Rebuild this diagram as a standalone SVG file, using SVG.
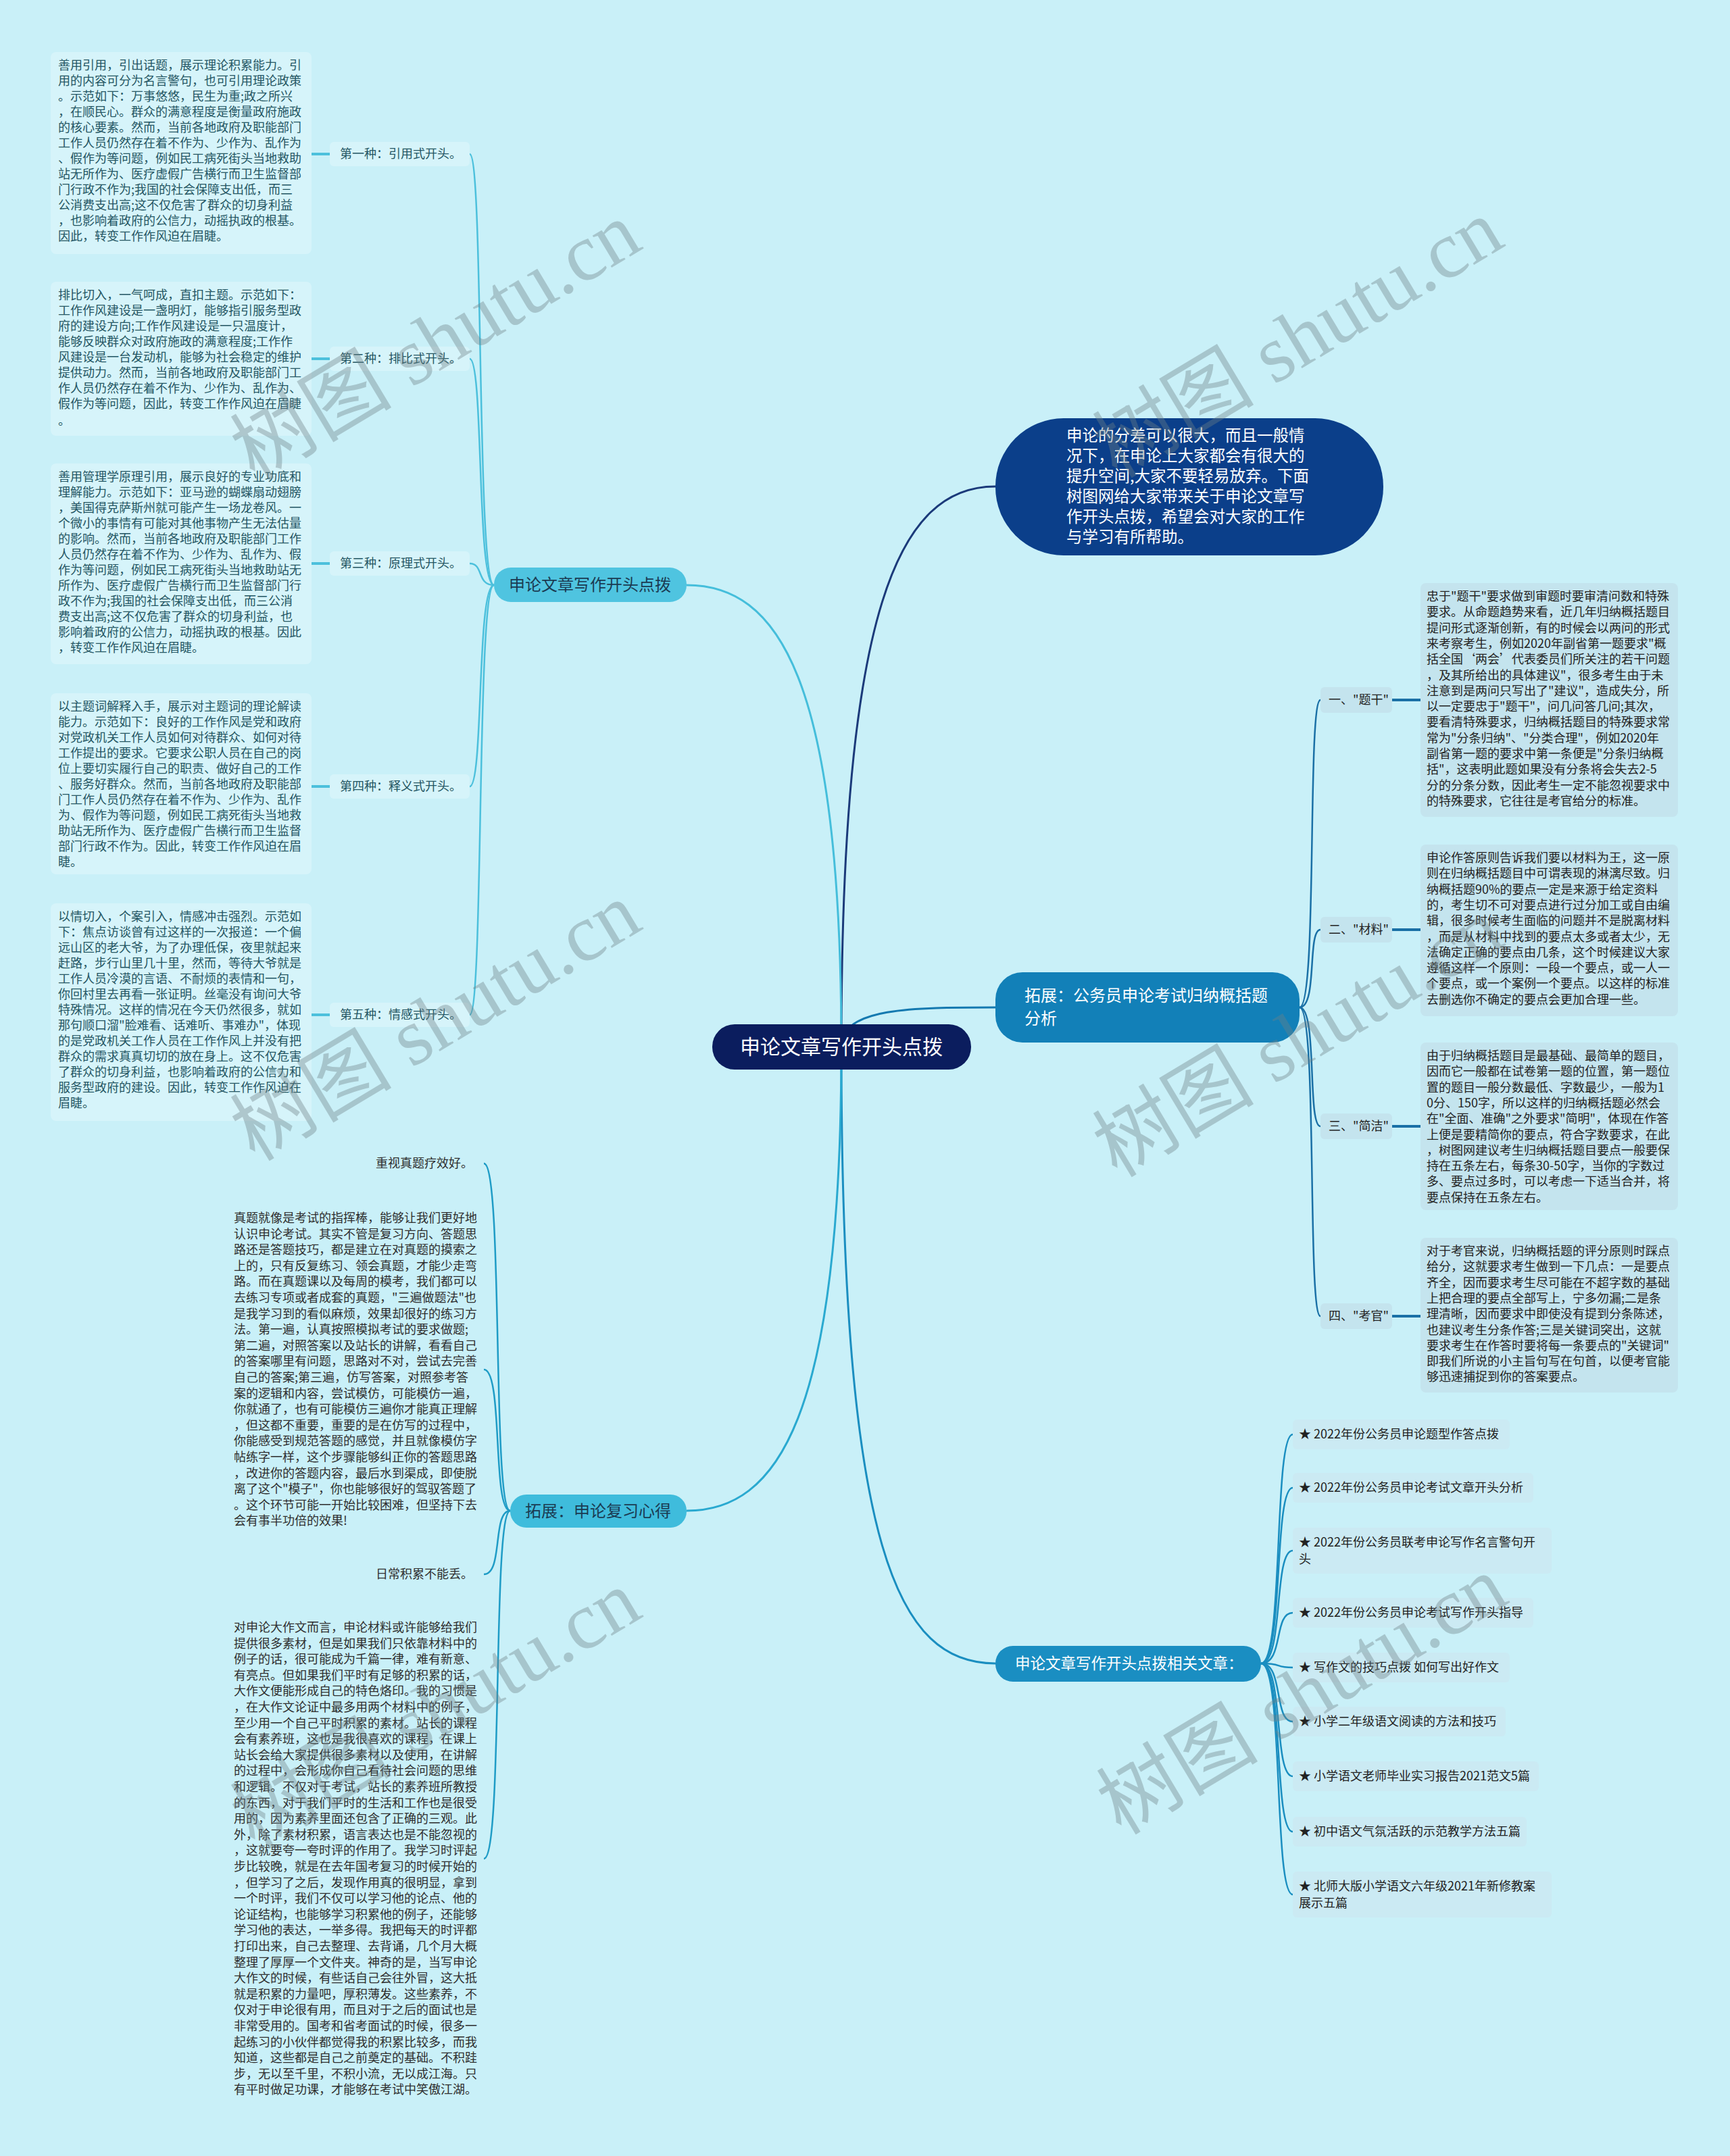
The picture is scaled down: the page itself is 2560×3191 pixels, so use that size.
<svg xmlns="http://www.w3.org/2000/svg" width="2560" height="3191" viewBox="0 0 2560 3191">
<style>
text{font-family:"Noto Sans CJK SC","Noto Sans",sans-serif;}
.lt{font-size:18px;fill:#245663;}
.rt{font-size:18px;fill:#232323;}
.vt{font-size:18px;fill:#2e2e2e;}
.it{font-size:18px;fill:#222;}
.lbox{fill:#d6f4fa;}
.rbox{fill:#c4e4ee;}
.ibox{fill:#cbeaf3;}
.c1{fill:none;stroke:#4cc0dc;stroke-width:2.5;}
.c1b{fill:none;stroke:#4cc0dc;stroke-width:4;}
.c2{fill:none;stroke:#1a70a6;stroke-width:2.5;}
.c2b{fill:none;stroke:#1a70a6;stroke-width:4;}
.c3{fill:none;stroke:#1a8ec0;stroke-width:2.5;}
.c4{fill:none;stroke:#1f9cc6;stroke-width:2.5;}
.wm{font-family:"Liberation Serif","Noto Sans CJK SC",serif;font-size:120px;fill:#6f8186;opacity:0.38;}
</style>
<rect x="0" y="0" width="2560" height="3191" fill="#c9f0f8"/>

<g id="connectors">
<path d="M1245,1549 C1245,900 1330,720 1473,720" fill="none" stroke="#1b3a7a" stroke-width="3"/>
<path d="M1245,1549 C1245,1491 1350,1491 1473,1491" fill="none" stroke="#1479b0" stroke-width="3"/>
<path d="M1245,1549 C1245,2300 1330,2462 1473,2462" fill="none" stroke="#1a8ec0" stroke-width="3"/>
<path d="M1245,1549 C1245,1000 1150,866 1016,866" fill="none" stroke="#45bedb" stroke-width="3"/>
<path d="M1245,1549 C1245,2100 1150,2236 1016,2236" fill="none" stroke="#2aa9d0" stroke-width="3"/>
<path class="c1" d="M731,866 C705,866 716,228 695,228"/>
<path class="c1" d="M731,866 C705,866 716,531 695,531"/>
<path class="c1" d="M731,866 C705,866 716,834 695,834"/>
<path class="c1" d="M731,866 C705,866 716,1164 695,1164"/>
<path class="c1" d="M731,866 C705,866 716,1502 695,1502"/>
<path class="c1b" d="M488,228 L461,228"/>
<path class="c1b" d="M488,531 L461,531"/>
<path class="c1b" d="M488,834 L461,834"/>
<path class="c1b" d="M488,1164 L461,1164"/>
<path class="c1b" d="M488,1502 L461,1502"/>
<path class="c4" d="M755,2236 C728,2236 745,1722 716,1722"/>
<path class="c4" d="M755,2236 C728,2236 745,2027 716,2027"/>
<path class="c4" d="M755,2236 C728,2236 745,2330 716,2330"/>
<path class="c4" d="M755,2236 C728,2236 745,2751 716,2751"/>
<path class="c2" d="M1923,1491 C1950,1491 1934,1036 1954,1036"/>
<path class="c2" d="M1923,1491 C1950,1491 1934,1376 1954,1376"/>
<path class="c2" d="M1923,1491 C1950,1491 1934,1667 1954,1667"/>
<path class="c2" d="M1923,1491 C1950,1491 1934,1948 1954,1948"/>
<path class="c2b" d="M2060,1036 L2102,1036"/>
<path class="c2b" d="M2060,1376 L2102,1376"/>
<path class="c2b" d="M2060,1667 L2102,1667"/>
<path class="c2b" d="M2060,1948 L2102,1948"/>
<path class="c3" d="M1866,2462 C1900,2462 1884,2123 1913,2123"/>
<path class="c3" d="M1866,2462 C1900,2462 1884,2202 1913,2202"/>
<path class="c3" d="M1866,2462 C1900,2462 1884,2295 1913,2295"/>
<path class="c3" d="M1866,2462 C1900,2462 1884,2387 1913,2387"/>
<path class="c3" d="M1866,2462 C1900,2462 1884,2468 1913,2468"/>
<path class="c3" d="M1866,2462 C1900,2462 1884,2548 1913,2548"/>
<path class="c3" d="M1866,2462 C1900,2462 1884,2629 1913,2629"/>
<path class="c3" d="M1866,2462 C1900,2462 1884,2711 1913,2711"/>
<path class="c3" d="M1866,2462 C1900,2462 1884,2804 1913,2804"/>
</g>

<g id="center">
<rect x="1054" y="1516" width="383" height="67" rx="33" fill="#0b1d5e"/>
<text x="1245" y="1560" font-size="30" fill="#ffffff" text-anchor="middle">申论文章写作开头点拨</text>
</g>

<g id="intro">
<rect x="1473" y="619" width="574" height="203" rx="101" fill="#0b3f8a"/>
<text font-size="23.5" fill="#ffffff">
<tspan x="1578" y="653">申论的分差可以很大，而且一般情</tspan>
<tspan x="1578" y="683">况下，在申论上大家都会有很大的</tspan>
<tspan x="1578" y="713">提升空间,大家不要轻易放弃。下面</tspan>
<tspan x="1578" y="743">树图网给大家带来关于申论文章写</tspan>
<tspan x="1578" y="773">作开头点拨，希望会对大家的工作</tspan>
<tspan x="1578" y="803">与学习有所帮助。</tspan>
</text>
</g>

<g id="branch-left">
<rect x="731" y="840" width="285" height="51" rx="25" fill="#4fc4e0"/>
<text x="873" y="874" font-size="24" fill="#1b3b52" text-anchor="middle">申论文章写作开头点拨</text>
</g>

<g id="label-1"><rect class="lbox" x="488" y="210" width="207" height="36" rx="6"/><text class="lt" x="503" y="234">第一种：引用式开头。</text></g>
<g id="label-2"><rect class="lbox" x="488" y="513" width="207" height="36" rx="6"/><text class="lt" x="503" y="537">第二种：排比式开头。</text></g>
<g id="label-3"><rect class="lbox" x="488" y="816" width="207" height="36" rx="6"/><text class="lt" x="503" y="840">第三种：原理式开头。</text></g>
<g id="label-4"><rect class="lbox" x="488" y="1146" width="207" height="36" rx="6"/><text class="lt" x="503" y="1170">第四种：释义式开头。</text></g>
<g id="label-5"><rect class="lbox" x="488" y="1484" width="207" height="36" rx="6"/><text class="lt" x="503" y="1508">第五种：情感式开头。</text></g>

<g id="block-1">
<rect class="lbox" x="75" y="77" width="386" height="299" rx="8"/>
<text class="lt">
<tspan x="86" y="103">善用引用，引出话题，展示理论积累能力。引</tspan>
<tspan x="86" y="126">用的内容可分为名言警句，也可引用理论政策</tspan>
<tspan x="86" y="149">。示范如下：万事悠悠，民生为重;政之所兴</tspan>
<tspan x="86" y="172">，在顺民心。群众的满意程度是衡量政府施政</tspan>
<tspan x="86" y="195">的核心要素。然而，当前各地政府及职能部门</tspan>
<tspan x="86" y="218">工作人员仍然存在着不作为、少作为、乱作为</tspan>
<tspan x="86" y="241">、假作为等问题，例如民工病死街头当地救助</tspan>
<tspan x="86" y="264">站无所作为、医疗虚假广告横行而卫生监督部</tspan>
<tspan x="86" y="287">门行政不作为;我国的社会保障支出低，而三</tspan>
<tspan x="86" y="310">公消费支出高;这不仅危害了群众的切身利益</tspan>
<tspan x="86" y="333">，也影响着政府的公信力，动摇执政的根基。</tspan>
<tspan x="86" y="356">因此，转变工作作风迫在眉睫。</tspan>
</text>
</g>

<g id="block-2">
<rect class="lbox" x="75" y="417" width="386" height="228" rx="8"/>
<text class="lt">
<tspan x="86" y="443">排比切入，一气呵成，直扣主题。示范如下：</tspan>
<tspan x="86" y="466">工作作风建设是一盏明灯，能够指引服务型政</tspan>
<tspan x="86" y="489">府的建设方向;工作作风建设是一只温度计，</tspan>
<tspan x="86" y="512">能够反映群众对政府施政的满意程度;工作作</tspan>
<tspan x="86" y="535">风建设是一台发动机，能够为社会稳定的维护</tspan>
<tspan x="86" y="558">提供动力。然而，当前各地政府及职能部门工</tspan>
<tspan x="86" y="581">作人员仍然存在着不作为、少作为、乱作为、</tspan>
<tspan x="86" y="604">假作为等问题，因此，转变工作作风迫在眉睫</tspan>
<tspan x="86" y="629">。</tspan>
</text>
</g>

<g id="block-3">
<rect class="lbox" x="75" y="686" width="386" height="297" rx="8"/>
<text class="lt">
<tspan x="86" y="712">善用管理学原理引用，展示良好的专业功底和</tspan>
<tspan x="86" y="735">理解能力。示范如下：亚马逊的蝴蝶扇动翅膀</tspan>
<tspan x="86" y="758">，美国得克萨斯州就可能产生一场龙卷风。一</tspan>
<tspan x="86" y="781">个微小的事情有可能对其他事物产生无法估量</tspan>
<tspan x="86" y="804">的影响。然而，当前各地政府及职能部门工作</tspan>
<tspan x="86" y="827">人员仍然存在着不作为、少作为、乱作为、假</tspan>
<tspan x="86" y="850">作为等问题，例如民工病死街头当地救助站无</tspan>
<tspan x="86" y="873">所作为、医疗虚假广告横行而卫生监督部门行</tspan>
<tspan x="86" y="896">政不作为;我国的社会保障支出低，而三公消</tspan>
<tspan x="86" y="919">费支出高;这不仅危害了群众的切身利益，也</tspan>
<tspan x="86" y="942">影响着政府的公信力，动摇执政的根基。因此</tspan>
<tspan x="86" y="965">，转变工作作风迫在眉睫。</tspan>
</text>
</g>

<g id="block-4">
<rect class="lbox" x="75" y="1026" width="386" height="268" rx="8"/>
<text class="lt">
<tspan x="86" y="1052">以主题词解释入手，展示对主题词的理论解读</tspan>
<tspan x="86" y="1075">能力。示范如下：良好的工作作风是党和政府</tspan>
<tspan x="86" y="1098">对党政机关工作人员如何对待群众、如何对待</tspan>
<tspan x="86" y="1121">工作提出的要求。它要求公职人员在自己的岗</tspan>
<tspan x="86" y="1144">位上要切实履行自己的职责、做好自己的工作</tspan>
<tspan x="86" y="1167">、服务好群众。然而，当前各地政府及职能部</tspan>
<tspan x="86" y="1190">门工作人员仍然存在着不作为、少作为、乱作</tspan>
<tspan x="86" y="1213">为、假作为等问题，例如民工病死街头当地救</tspan>
<tspan x="86" y="1236">助站无所作为、医疗虚假广告横行而卫生监督</tspan>
<tspan x="86" y="1259">部门行政不作为。因此，转变工作作风迫在眉</tspan>
<tspan x="86" y="1282">睫。</tspan>
</text>
</g>

<g id="block-5">
<rect class="lbox" x="75" y="1337" width="386" height="322" rx="8"/>
<text class="lt">
<tspan x="86" y="1363">以情切入，个案引入，情感冲击强烈。示范如</tspan>
<tspan x="86" y="1386">下：焦点访谈曾有过这样的一次报道：一个偏</tspan>
<tspan x="86" y="1409">远山区的老大爷，为了办理低保，夜里就起来</tspan>
<tspan x="86" y="1432">赶路，步行山里几十里，然而，等待大爷就是</tspan>
<tspan x="86" y="1455">工作人员冷漠的言语、不耐烦的表情和一句，</tspan>
<tspan x="86" y="1478">你回村里去再看一张证明。丝毫没有询问大爷</tspan>
<tspan x="86" y="1501">特殊情况。这样的情况在今天仍然很多，就如</tspan>
<tspan x="86" y="1524">那句顺口溜"脸难看、话难听、事难办"，体现</tspan>
<tspan x="86" y="1547">的是党政机关工作人员在工作作风上并没有把</tspan>
<tspan x="86" y="1570">群众的需求真真切切的放在身上。这不仅危害</tspan>
<tspan x="86" y="1593">了群众的切身利益，也影响着政府的公信力和</tspan>
<tspan x="86" y="1616">服务型政府的建设。因此，转变工作作风迫在</tspan>
<tspan x="86" y="1639">眉睫。</tspan>
</text>
</g>

<g id="branch-review">
<rect x="755" y="2212" width="261" height="49" rx="24" fill="#3fbcdc"/>
<text x="885" y="2245" font-size="24" fill="#1b3b52" text-anchor="middle">拓展：申论复习心得</text>
</g>

<g id="review-label-1"><text class="vt" x="700" y="1728" text-anchor="end">重视真题疗效好。</text></g>
<g id="review-text-1">
<text class="vt">
<tspan x="346" y="1809">真题就像是考试的指挥棒，能够让我们更好地</tspan>
<tspan x="346" y="1832.6">认识申论考试。其实不管是复习方向、答题思</tspan>
<tspan x="346" y="1856.2">路还是答题技巧，都是建立在对真题的摸索之</tspan>
<tspan x="346" y="1879.8">上的，只有反复练习、领会真题，才能少走弯</tspan>
<tspan x="346" y="1903.4">路。而在真题课以及每周的模考，我们都可以</tspan>
<tspan x="346" y="1927">去练习专项或者成套的真题，"三遍做题法"也</tspan>
<tspan x="346" y="1950.6">是我学习到的看似麻烦，效果却很好的练习方</tspan>
<tspan x="346" y="1974.2">法。第一遍，认真按照模拟考试的要求做题;</tspan>
<tspan x="346" y="1997.8">第二遍，对照答案以及站长的讲解，看看自己</tspan>
<tspan x="346" y="2021.4">的答案哪里有问题，思路对不对，尝试去完善</tspan>
<tspan x="346" y="2045">自己的答案;第三遍，仿写答案，对照参考答</tspan>
<tspan x="346" y="2068.6">案的逻辑和内容，尝试模仿，可能模仿一遍，</tspan>
<tspan x="346" y="2092.2">你就通了，也有可能模仿三遍你才能真正理解</tspan>
<tspan x="346" y="2115.8">，但这都不重要，重要的是在仿写的过程中，</tspan>
<tspan x="346" y="2139.4">你能感受到规范答题的感觉，并且就像模仿字</tspan>
<tspan x="346" y="2163">帖练字一样，这个步骤能够纠正你的答题思路</tspan>
<tspan x="346" y="2186.6">，改进你的答题内容，最后水到渠成，即使脱</tspan>
<tspan x="346" y="2210.2">离了这个"模子"，你也能够很好的驾驭答题了</tspan>
<tspan x="346" y="2233.8">。这个环节可能一开始比较困难，但坚持下去</tspan>
<tspan x="346" y="2257.4">会有事半功倍的效果!</tspan>
</text>
</g>

<g id="review-label-2"><text class="vt" x="700" y="2336" text-anchor="end">日常积累不能丢。</text></g>
<g id="review-text-2">
<text class="vt">
<tspan x="346" y="2415">对申论大作文而言，申论材料或许能够给我们</tspan>
<tspan x="346" y="2438.6">提供很多素材，但是如果我们只依靠材料中的</tspan>
<tspan x="346" y="2462.2">例子的话，很可能成为千篇一律，难有新意、</tspan>
<tspan x="346" y="2485.8">有亮点。但如果我们平时有足够的积累的话，</tspan>
<tspan x="346" y="2509.4">大作文便能形成自己的特色烙印。我的习惯是</tspan>
<tspan x="346" y="2533">，在大作文论证中最多用两个材料中的例子，</tspan>
<tspan x="346" y="2556.6">至少用一个自己平时积累的素材。站长的课程</tspan>
<tspan x="346" y="2580.2">会有素养班，这也是我很喜欢的课程，在课上</tspan>
<tspan x="346" y="2603.8">站长会给大家提供很多素材以及使用，在讲解</tspan>
<tspan x="346" y="2627.4">的过程中，会形成你自己看待社会问题的思维</tspan>
<tspan x="346" y="2651">和逻辑。不仅对于考试，站长的素养班所教授</tspan>
<tspan x="346" y="2674.6">的东西，对于我们平时的生活和工作也是很受</tspan>
<tspan x="346" y="2698.2">用的，因为素养里面还包含了正确的三观。此</tspan>
<tspan x="346" y="2721.8">外，除了素材积累，语言表达也是不能忽视的</tspan>
<tspan x="346" y="2745.4">，这就要夸一夸时评的作用了。我学习时评起</tspan>
<tspan x="346" y="2769">步比较晚，就是在去年国考复习的时候开始的</tspan>
<tspan x="346" y="2792.6">，但学习了之后，发现作用真的很明显，拿到</tspan>
<tspan x="346" y="2816.2">一个时评，我们不仅可以学习他的论点、他的</tspan>
<tspan x="346" y="2839.8">论证结构，也能够学习积累他的例子，还能够</tspan>
<tspan x="346" y="2863.4">学习他的表达，一举多得。我把每天的时评都</tspan>
<tspan x="346" y="2887">打印出来，自己去整理、去背诵，几个月大概</tspan>
<tspan x="346" y="2910.6">整理了厚厚一个文件夹。神奇的是，当写申论</tspan>
<tspan x="346" y="2934.2">大作文的时候，有些话自己会往外冒，这大抵</tspan>
<tspan x="346" y="2957.8">就是积累的力量吧，厚积薄发。这些素养，不</tspan>
<tspan x="346" y="2981.4">仅对于申论很有用，而且对于之后的面试也是</tspan>
<tspan x="346" y="3005">非常受用的。国考和省考面试的时候，很多一</tspan>
<tspan x="346" y="3028.6">起练习的小伙伴都觉得我的积累比较多，而我</tspan>
<tspan x="346" y="3052.2">知道，这些都是自己之前奠定的基础。不积跬</tspan>
<tspan x="346" y="3075.8">步，无以至千里，不积小流，无以成江海。只</tspan>
<tspan x="346" y="3099.4">有平时做足功课，才能够在考试中笑傲江湖。</tspan>
</text>
</g>

<g id="branch-analysis">
<rect x="1473" y="1439" width="450" height="104" rx="40" fill="#1280b8"/>
<text font-size="24" fill="#ffffff">
<tspan x="1516" y="1482">拓展：公务员申论考试归纳概括题</tspan>
<tspan x="1516" y="1516">分析</tspan>
</text>
</g>

<g id="r-label-1"><rect class="rbox" x="1954" y="1017" width="106" height="38" rx="6"/><text class="rt" x="1966" y="1042">一、"题干"</text></g>
<g id="r-label-2"><rect class="rbox" x="1954" y="1357" width="106" height="38" rx="6"/><text class="rt" x="1966" y="1382">二、"材料"</text></g>
<g id="r-label-3"><rect class="rbox" x="1954" y="1648" width="106" height="38" rx="6"/><text class="rt" x="1966" y="1673">三、"简洁"</text></g>
<g id="r-label-4"><rect class="rbox" x="1954" y="1929" width="106" height="38" rx="6"/><text class="rt" x="1966" y="1954">四、"考官"</text></g>

<g id="r-block-1">
<rect class="rbox" x="2102" y="863" width="381" height="346" rx="8"/>
<text class="rt">
<tspan x="2111" y="889">忠于"题干"要求做到审题时要审清问数和特殊</tspan>
<tspan x="2111" y="912.3">要求。从命题趋势来看，近几年归纳概括题目</tspan>
<tspan x="2111" y="935.6">提问形式逐渐创新，有的时候会以两问的形式</tspan>
<tspan x="2111" y="958.9">来考察考生，例如2020年副省第一题要求"概</tspan>
<tspan x="2111" y="982.2">括全国‘两会’代表委员们所关注的若干问题</tspan>
<tspan x="2111" y="1005.5">，及其所给出的具体建议"，很多考生由于未</tspan>
<tspan x="2111" y="1028.8">注意到是两问只写出了"建议"，造成失分，所</tspan>
<tspan x="2111" y="1052.1">以一定要忠于"题干"，问几问答几问;其次，</tspan>
<tspan x="2111" y="1075.4">要看清特殊要求，归纳概括题目的特殊要求常</tspan>
<tspan x="2111" y="1098.7">常为"分条归纳"、"分类合理"，例如2020年</tspan>
<tspan x="2111" y="1122">副省第一题的要求中第一条便是"分条归纳概</tspan>
<tspan x="2111" y="1145.3">括"，这表明此题如果没有分条将会失去2-5</tspan>
<tspan x="2111" y="1168.6">分的分条分数，因此考生一定不能忽视要求中</tspan>
<tspan x="2111" y="1191.9">的特殊要求，它往往是考官给分的标准。</tspan>
</text>
</g>

<g id="r-block-2">
<rect class="rbox" x="2102" y="1250" width="381" height="254" rx="8"/>
<text class="rt">
<tspan x="2111" y="1276">申论作答原则告诉我们要以材料为王，这一原</tspan>
<tspan x="2111" y="1299.3">则在归纳概括题目中可谓表现的淋漓尽致。归</tspan>
<tspan x="2111" y="1322.6">纳概括题90%的要点一定是来源于给定资料</tspan>
<tspan x="2111" y="1345.9">的，考生切不可对要点进行过分加工或自由编</tspan>
<tspan x="2111" y="1369.2">辑，很多时候考生面临的问题并不是脱离材料</tspan>
<tspan x="2111" y="1392.5">，而是从材料中找到的要点太多或者太少，无</tspan>
<tspan x="2111" y="1415.8">法确定正确的要点由几条，这个时候建议大家</tspan>
<tspan x="2111" y="1439.1">遵循这样一个原则：一段一个要点，或一人一</tspan>
<tspan x="2111" y="1462.4">个要点，或一个案例一个要点。以这样的标准</tspan>
<tspan x="2111" y="1485.7">去删选你不确定的要点会更加合理一些。</tspan>
</text>
</g>

<g id="r-block-3">
<rect class="rbox" x="2102" y="1543" width="381" height="248" rx="8"/>
<text class="rt">
<tspan x="2111" y="1569">由于归纳概括题目是最基础、最简单的题目，</tspan>
<tspan x="2111" y="1592.3">因而它一般都在试卷第一题的位置，第一题位</tspan>
<tspan x="2111" y="1615.6">置的题目一般分数最低、字数最少，一般为1</tspan>
<tspan x="2111" y="1638.9">0分、150字，所以这样的归纳概括题必然会</tspan>
<tspan x="2111" y="1662.2">在"全面、准确"之外要求"简明"，体现在作答</tspan>
<tspan x="2111" y="1685.5">上便是要精简你的要点，符合字数要求，在此</tspan>
<tspan x="2111" y="1708.8">，树图网建议考生归纳概括题目要点一般要保</tspan>
<tspan x="2111" y="1732.1">持在五条左右，每条30-50字，当你的字数过</tspan>
<tspan x="2111" y="1755.4">多、要点过多时，可以考虑一下适当合并，将</tspan>
<tspan x="2111" y="1778.7">要点保持在五条左右。</tspan>
</text>
</g>

<g id="r-block-4">
<rect class="rbox" x="2102" y="1832" width="381" height="229" rx="8"/>
<text class="rt">
<tspan x="2111" y="1858">对于考官来说，归纳概括题的评分原则时踩点</tspan>
<tspan x="2111" y="1881.3">给分，这就要求考生做到一下几点：一是要点</tspan>
<tspan x="2111" y="1904.6">齐全，因而要求考生尽可能在不超字数的基础</tspan>
<tspan x="2111" y="1927.9">上把合理的要点全部写上，宁多勿漏;二是条</tspan>
<tspan x="2111" y="1951.2">理清晰，因而要求中即使没有提到分条陈述，</tspan>
<tspan x="2111" y="1974.5">也建议考生分条作答;三是关键词突出，这就</tspan>
<tspan x="2111" y="1997.8">要求考生在作答时要将每一条要点的"关键词"</tspan>
<tspan x="2111" y="2021.1">即我们所说的小主旨句写在句首，以便考官能</tspan>
<tspan x="2111" y="2044.4">够迅速捕捉到你的答案要点。</tspan>
</text>
</g>

<g id="branch-related">
<rect x="1473" y="2436" width="393" height="53" rx="26" fill="#1a8ec2"/>
<text x="1502" y="2470" font-size="22.5" fill="#ffffff">申论文章写作开头点拨相关文章：</text>
</g>

<g id="item-1"><rect class="ibox" x="1913" y="2101" width="321" height="44" rx="6"/><text class="it" x="1922" y="2129">★ 2022年份公务员申论题型作答点拨</text></g>
<g id="item-2"><rect class="ibox" x="1913" y="2180" width="356" height="44" rx="6"/><text class="it" x="1922" y="2208">★ 2022年份公务员申论考试文章开头分析</text></g>
<g id="item-3"><rect class="ibox" x="1913" y="2261" width="383" height="68" rx="6"/><text class="it"><tspan x="1922" y="2289">★ 2022年份公务员联考申论写作名言警句开</tspan><tspan x="1922" y="2314">头</tspan></text></g>
<g id="item-4"><rect class="ibox" x="1913" y="2365" width="356" height="44" rx="6"/><text class="it" x="1922" y="2393">★ 2022年份公务员申论考试写作开头指导</text></g>
<g id="item-5"><rect class="ibox" x="1913" y="2446" width="321" height="44" rx="6"/><text class="it" x="1922" y="2474">★ 写作文的技巧点拨 如何写出好作文</text></g>
<g id="item-6"><rect class="ibox" x="1913" y="2526" width="315" height="44" rx="6"/><text class="it" x="1922" y="2554">★ 小学二年级语文阅读的方法和技巧</text></g>
<g id="item-7"><rect class="ibox" x="1913" y="2607" width="364" height="44" rx="6"/><text class="it" x="1922" y="2635">★ 小学语文老师毕业实习报告2021范文5篇</text></g>
<g id="item-8"><rect class="ibox" x="1913" y="2689" width="346" height="44" rx="6"/><text class="it" x="1922" y="2717">★ 初中语文气氛活跃的示范教学方法五篇</text></g>
<g id="item-9"><rect class="ibox" x="1913" y="2770" width="383" height="68" rx="6"/><text class="it"><tspan x="1922" y="2798">★ 北师大版小学语文六年级2021年新修教案</tspan><tspan x="1922" y="2823">展示五篇</tspan></text></g>

<g id="watermarks">
<text class="wm" x="647" y="545" text-anchor="middle" transform="rotate(-31 647 509)">树图 shutu.cn</text>
<text class="wm" x="1923" y="541" text-anchor="middle" transform="rotate(-31 1923 505)">树图 shutu.cn</text>
<text class="wm" x="647" y="1552" text-anchor="middle" transform="rotate(-31 647 1516)">树图 shutu.cn</text>
<text class="wm" x="1923" y="1576" text-anchor="middle" transform="rotate(-31 1923 1540)">树图 shutu.cn</text>
<text class="wm" x="647" y="2570" text-anchor="middle" transform="rotate(-31 647 2534)">树图 shutu.cn</text>
<text class="wm" x="1929" y="2549" text-anchor="middle" transform="rotate(-31 1929 2513)">树图 shutu.cn</text>
</g>
</svg>
